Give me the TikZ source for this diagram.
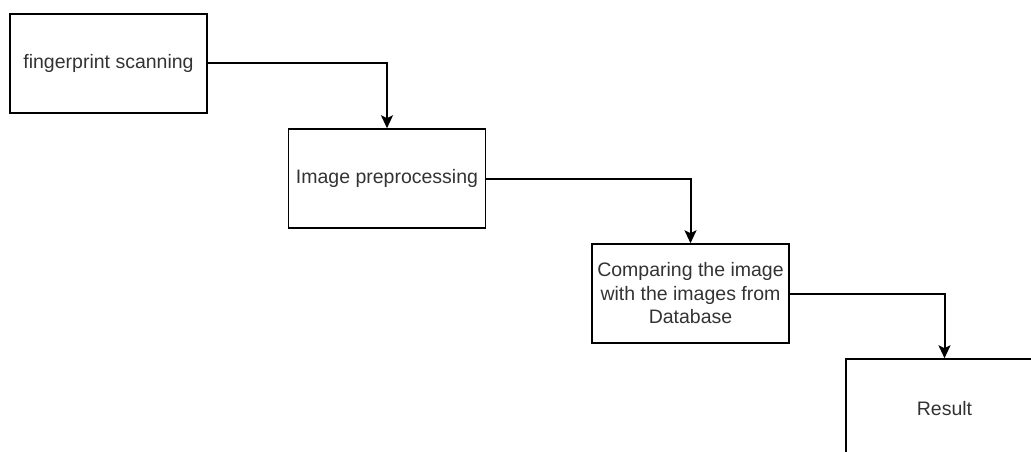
\documentclass[tikz,border=0pt]{standalone}
\usepackage{fontspec}
\setmainfont{Liberation Sans}
\usetikzlibrary{arrows.meta}

\begin{document}
\begin{tikzpicture}[x=1pt, y=-1pt,
  stepbox/.style={draw, line width=1.5pt, minimum width=197pt, minimum height=99pt,
    inner sep=0pt, align=center, text=black!80,
    font=\fontsize{19.5}{23.5}\selectfont},
  link/.style={line width=2pt, -{Stealth[length=13pt, width=12pt, inset=3pt]}}]
\useasboundingbox (0,0) rectangle (1031,452);

\node[stepbox] (A) at (108.5,63.5) {fingerprint scanning};
\node[stepbox] (B) at (387,178.5) {Image preprocessing};
\node[stepbox] (C) at (690.5,293.5) {Comparing the image\\with the images from\\Database};
\node[stepbox] (D) at (944.5,408.5) {Result};

\draw[link] (A.east) -| (B.north);
\draw[link] (B.east) -| (C.north);
\draw[link] (C.east) -| (D.north);
\end{tikzpicture}
\end{document}
